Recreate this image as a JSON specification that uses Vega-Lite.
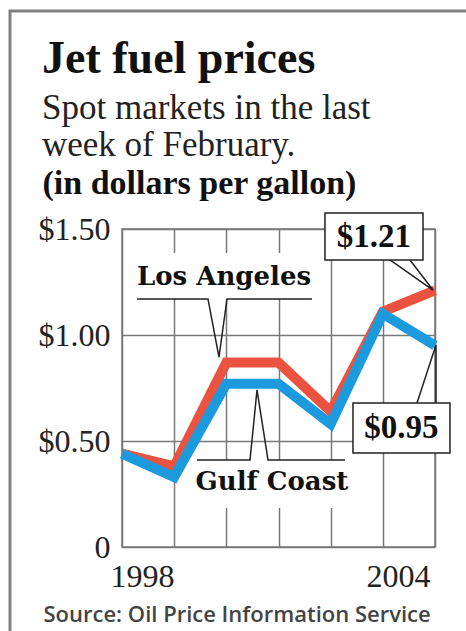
{
  "$schema": "https://vega.github.io/schema/vega-lite/v6.json",
  "width": 313,
  "height": 318,
  "autosize": {"type": "none"},
  "padding": {"left": 122, "right": 31, "top": 229, "bottom": 84},
  "background": "white",
  "title": {
    "text": "Jet fuel prices",
    "subtitle": ["Spot markets in the last", "week of February."],
    "anchor": "start",
    "frame": "group",
    "dx": -80,
    "dy": 158,
    "offset": 4,
    "font": "Liberation Serif",
    "fontSize": 46,
    "fontWeight": "bold",
    "color": "#111",
    "subtitleFont": "Liberation Serif",
    "subtitleFontSize": 35,
    "subtitleColor": "#222",
    "subtitleLineHeight": 37,
    "subtitlePadding": 8
  },
  "config": {
    "view": {"stroke": "#777", "strokeWidth": 1.5},
    "axis": {"gridColor": "#777", "gridWidth": 1.5, "gridOpacity": 1, "ticks": false, "domain": false, "labelFont": "Liberation Serif", "labelFontSize": 32, "labelColor": "#222"}
  },
  "datasets": {
    "prices": [
      {"year": 1998, "series": "Los Angeles", "price": 0.44},
      {"year": 1999, "series": "Los Angeles", "price": 0.38},
      {"year": 2000, "series": "Los Angeles", "price": 0.87},
      {"year": 2001, "series": "Los Angeles", "price": 0.87},
      {"year": 2002, "series": "Los Angeles", "price": 0.64},
      {"year": 2003, "series": "Los Angeles", "price": 1.11},
      {"year": 2004, "series": "Los Angeles", "price": 1.21},
      {"year": 1998, "series": "Gulf Coast", "price": 0.44},
      {"year": 1999, "series": "Gulf Coast", "price": 0.33},
      {"year": 2000, "series": "Gulf Coast", "price": 0.77},
      {"year": 2001, "series": "Gulf Coast", "price": 0.77},
      {"year": 2002, "series": "Gulf Coast", "price": 0.58},
      {"year": 2003, "series": "Gulf Coast", "price": 1.1},
      {"year": 2004, "series": "Gulf Coast", "price": 0.95}
    ],
    "leaders": [
      {"g": "la", "i": 1, "x": 1998.288, "y": 1.17},
      {"g": "la", "i": 2, "x": 1999.648, "y": 1.17},
      {"g": "la", "i": 3, "x": 1999.859, "y": 0.896},
      {"g": "la", "i": 4, "x": 2000.013, "y": 1.17},
      {"g": "la", "i": 5, "x": 2001.642, "y": 1.17},
      {"g": "gc", "i": 1, "x": 1999.438, "y": 0.41},
      {"g": "gc", "i": 2, "x": 2000.454, "y": 0.41},
      {"g": "gc", "i": 3, "x": 2000.588, "y": 0.741},
      {"g": "gc", "i": 4, "x": 2000.799, "y": 0.41},
      {"g": "gc", "i": 5, "x": 2002.274, "y": 0.41},
      {"g": "p121", "i": 1, "x": 2003.137, "y": 1.354},
      {"g": "p121", "i": 2, "x": 2003.961, "y": 1.212},
      {"g": "p121", "i": 3, "x": 2003.52, "y": 1.354},
      {"g": "p095", "i": 1, "x": 2003.655, "y": 0.679},
      {"g": "p095", "i": 2, "x": 2004.019, "y": 0.953},
      {"g": "p095", "i": 3, "x": 2004.019, "y": 0.679}
    ],
    "whites": [
      {"x": 1998.288, "x2": 2001.642, "y": 1.387, "y2": 1.17},
      {"x": 1999.438, "x2": 2002.274, "y": 0.41, "y2": 0.184}
    ],
    "boxes": [
      {"x": 2001.891, "x2": 2003.77, "y": 1.575, "y2": 1.354},
      {"x": 2002.428, "x2": 2004.287, "y": 0.679, "y2": 0.443}
    ],
    "names": [
      {"label": "Los Angeles", "x": 1999.955, "y": 1.236},
      {"label": "Gulf Coast", "x": 2000.875, "y": 0.269}
    ],
    "values": [
      {"label": "$1.21", "x": 2002.83, "y": 1.415},
      {"label": "$0.95", "x": 2003.357, "y": 0.514}
    ],
    "frame": [
      {"x": 1995.853, "x2": 2004.862, "y": 2.528, "y2": -0.486}
    ]
  },
  "layer": [
    {
      "data": {"name": "prices"},
      "mark": {"type": "line", "opacity": 0},
      "encoding": {
        "x": {"field": "year", "type": "quantitative", "scale": {"domain": [1998, 2004], "nice": false, "zero": false},
          "axis": {"values": [1998, 1999, 2000, 2001, 2002, 2003, 2004], "grid": true, "labelFlush": false,
            "labelExpr": "(datum.value == 1998 || datum.value == 2004) ? format(datum.value, 'd') : ''",
            "labelPadding": 14,
            "labelOffset": {"condition": {"test": "datum.value == 1998", "value": 20}, "value": -37},
            "title": "Source: Oil Price Information Service",
            "titleFont": "Open Sans", "titleFontSize": 22, "titleFontWeight": 600, "titleColor": "#444",
            "titleAnchor": "start", "titleAlign": "left", "titleX": -79, "titleY": 74, "titleBaseline": "alphabetic"}},
        "y": {"field": "price", "type": "quantitative", "scale": {"domain": [0, 1.5], "nice": false},
          "axis": {"values": [0, 0.5, 1, 1.5], "grid": true, "labelPadding": 12,
            "labelExpr": "datum.value == 0 ? '0' : '$' + format(datum.value, '.2f')",
            "title": "(in dollars per gallon)", "titleAngle": 0, "titleAlign": "left", "titleAnchor": "start",
            "titleX": -80, "titleY": -36, "titleBaseline": "alphabetic",
            "titleFont": "Liberation Serif", "titleFontSize": 34, "titleFontWeight": "bold", "titleColor": "#111"}},
        "detail": {"field": "series"}
      }
    },
    {
      "data": {"name": "frame"},
      "mark": {"type": "rect", "fillOpacity": 0, "stroke": "#808080", "strokeWidth": 3},
      "encoding": {
        "x": {"field": "x", "type": "quantitative"}, "x2": {"field": "x2"},
        "y": {"field": "y", "type": "quantitative"}, "y2": {"field": "y2"}
      }
    },
    {
      "data": {"name": "whites"},
      "mark": {"type": "rect", "fill": "white"},
      "encoding": {
        "x": {"field": "x", "type": "quantitative"}, "x2": {"field": "x2"},
        "y": {"field": "y", "type": "quantitative"}, "y2": {"field": "y2"}
      }
    },
    {
      "data": {"name": "prices"},
      "transform": [{"filter": "datum.series == 'Los Angeles'"}],
      "mark": {"type": "line", "color": "#ec5240", "strokeWidth": 10},
      "encoding": {
        "x": {"field": "year", "type": "quantitative"},
        "y": {"field": "price", "type": "quantitative"}
      }
    },
    {
      "data": {"name": "prices"},
      "transform": [{"filter": "datum.series == 'Gulf Coast'"}],
      "mark": {"type": "line", "color": "#1c9ade", "strokeWidth": 10},
      "encoding": {
        "x": {"field": "year", "type": "quantitative"},
        "y": {"field": "price", "type": "quantitative"}
      }
    },
    {
      "data": {"name": "leaders"},
      "mark": {"type": "line", "color": "#222", "strokeWidth": 1.5},
      "encoding": {
        "x": {"field": "x", "type": "quantitative"},
        "y": {"field": "y", "type": "quantitative"},
        "detail": {"field": "g"},
        "order": {"field": "i"}
      }
    },
    {
      "data": {"name": "boxes"},
      "mark": {"type": "rect", "fill": "white", "stroke": "#222", "strokeWidth": 1.5},
      "encoding": {
        "x": {"field": "x", "type": "quantitative"}, "x2": {"field": "x2"},
        "y": {"field": "y", "type": "quantitative"}, "y2": {"field": "y2"}
      }
    },
    {
      "data": {"name": "names"},
      "mark": {"type": "text", "font": "DejaVu Serif", "fontWeight": "bold", "fontSize": 26, "color": "#111", "align": "center", "baseline": "alphabetic"},
      "encoding": {
        "x": {"field": "x", "type": "quantitative"},
        "y": {"field": "y", "type": "quantitative"},
        "text": {"field": "label"}
      }
    },
    {
      "data": {"name": "values"},
      "mark": {"type": "text", "font": "Liberation Serif", "fontWeight": "bold", "fontSize": 33, "color": "#111", "align": "center", "baseline": "alphabetic"},
      "encoding": {
        "x": {"field": "x", "type": "quantitative"},
        "y": {"field": "y", "type": "quantitative"},
        "text": {"field": "label"}
      }
    }
  ]
}
